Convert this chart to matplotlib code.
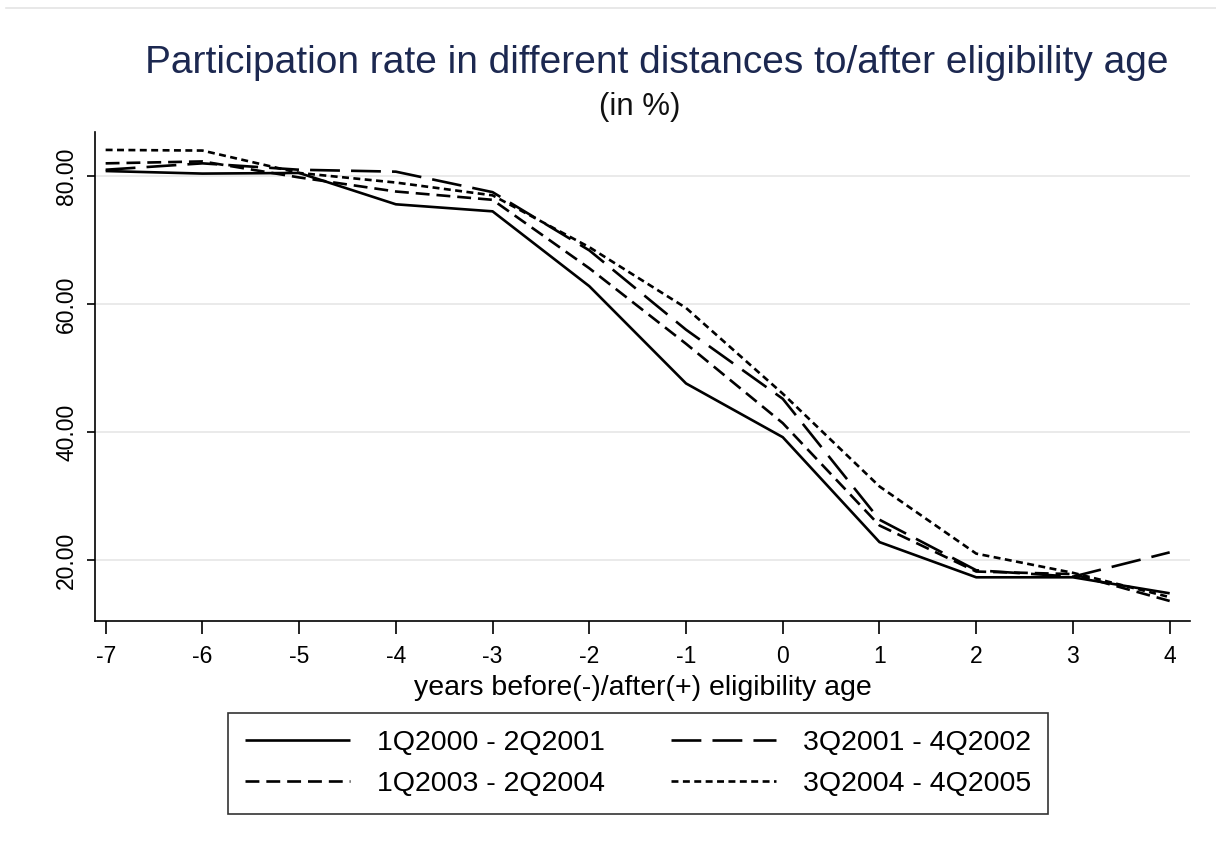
import matplotlib
matplotlib.use("Agg")
import matplotlib.pyplot as plt
from matplotlib.lines import Line2D

plt.rcParams['font.family'] = ['Liberation Sans', 'DejaVu Sans']
plt.rcParams['lines.scale_dashes'] = False

years = [-7, -6, -5, -4, -3, -2, -1, 0, 1, 2, 3, 4]
s_2000 = [80.8, 80.4, 80.5, 75.6, 74.5, 62.8, 47.6, 39.2, 22.8, 17.3, 17.3, 14.8]
s_2001 = [81.0, 82.0, 81.0, 80.7, 77.5, 68.4, 56.0, 45.2, 26.3, 18.4, 17.4, 21.2]
s_2003 = [82.0, 82.3, 79.8, 77.6, 76.3, 65.6, 53.8, 41.4, 25.4, 18.2, 17.8, 13.6]
s_2004 = [84.1, 84.0, 80.5, 79.0, 77.0, 68.9, 59.4, 46.0, 31.5, 21.0, 18.0, 14.2]

labels = ['1Q2000 - 2Q2001', '3Q2001 - 4Q2002', '1Q2003 - 2Q2004', '3Q2004 - 4Q2005']
series = [s_2000, s_2001, s_2003, s_2004]
styles = [(0, ()), (0, (21.5, 8)), (0, (10, 5)), (0, (5, 3.2))]

yticks = [20, 40, 60, 80]
xticks = years

fig = plt.figure(figsize=(12.16, 8.43), dpi=100)
fig.patch.set_facecolor('white')
ax = fig.add_axes([95/1216, 1-621/843, (1190-95)/1216, (621-132)/843])

for vals, ls, lab in zip(series, styles, labels):
    ax.plot(years, vals, color='black', lw=1.9, linestyle=ls, label=lab)

ax.set_xlim(-7.11, 4.21)
ax.set_ylim(10.47, 86.9)
ax.set_yticks(yticks)
ax.set_yticklabels([f"{v:.2f}" for v in yticks], rotation=90, va='center', fontsize=16.5)
ax.set_xticks(xticks)
ax.set_xticklabels([str(v) for v in xticks], fontsize=16.5)
ax.tick_params(axis='x', length=9, width=1.2, pad=8)
ax.tick_params(axis='y', length=6, width=1.2, pad=6)
ax.grid(axis='y', color='#e6e6e6', lw=1.2)
ax.set_axisbelow(True)
for s in ['top', 'right']:
    ax.spines[s].set_visible(False)
for s in ['left', 'bottom']:
    ax.spines[s].set_linewidth(1.2)

ax.set_xlabel('years before(-)/after(+) eligibility age', fontsize=20.5, labelpad=5)

fig.text(657/1216, 1-63/843, 'Participation rate in different distances to/after eligibility age',
         ha='center', va='center', fontsize=28, color='#1c2850')
fig.text(640/1216, 1-107/843, '(in %)', ha='center', va='center', fontsize=22.5, color='#111111')

# legend order row-wise: 1Q2000, 3Q2001 / 1Q2003, 3Q2004
order = [0, 2, 1, 3]
handles = [Line2D([0], [0], color='black', lw=1.9, linestyle=styles[i]) for i in order]
leg = fig.legend(handles, [labels[i] for i in order], loc='center',
                 bbox_to_anchor=(638/1216, 1-763.5/843),
                 ncol=2, fontsize=20.5, frameon=True, fancybox=False, edgecolor='black',
                 handlelength=3.7, handletextpad=0.95, columnspacing=2.3, borderpad=0.6,
                 labelspacing=0.5, borderaxespad=0)
leg.get_frame().set_linewidth(1.2)

fig.add_artist(Line2D([0.005, 1.0], [1-8/843, 1-8/843], color='#e4e4e4', lw=1.2,
                      transform=fig.transFigure))

fig.savefig('out.png', dpi=100, facecolor='white')
